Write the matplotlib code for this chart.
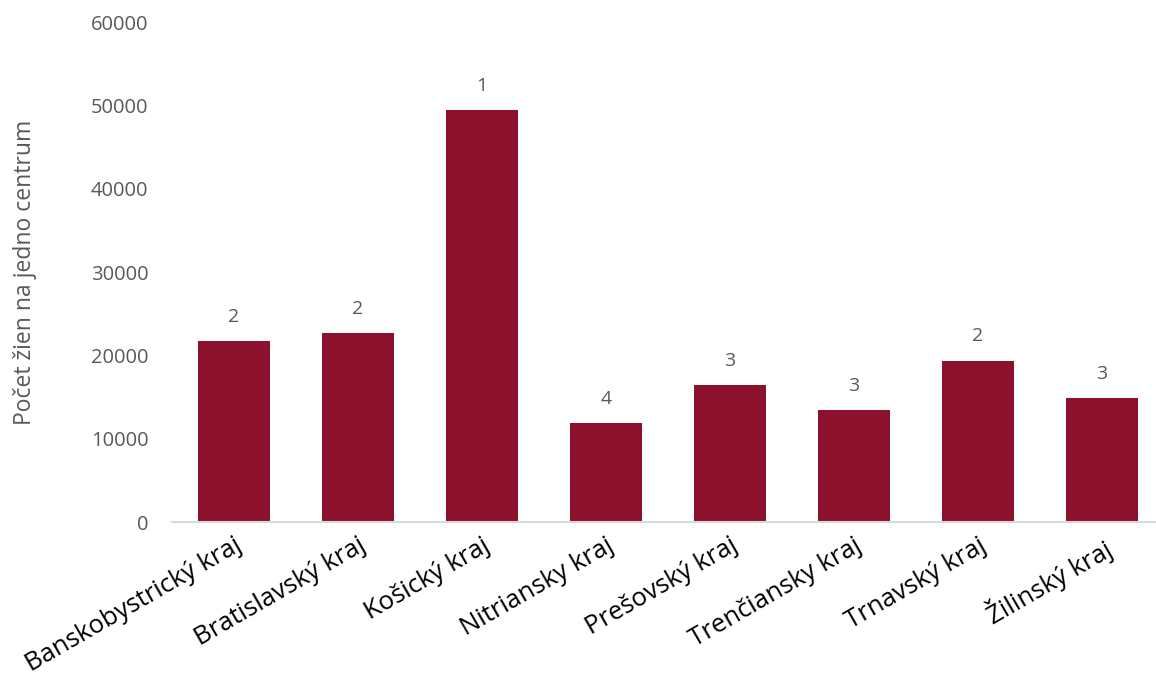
import matplotlib.pyplot as plt

regions = ["Banskobystrický kraj", "Bratislavský kraj", "Košický kraj", "Nitriansky kraj",
           "Prešovský kraj", "Trenčiansky kraj", "Trnavský kraj", "Žilinský kraj"]
women_per_centre = [21700, 22700, 49400, 11900, 16450, 13450, 19350, 14900]
centres = [2, 2, 1, 4, 3, 3, 2, 3]

plt.rcParams['font.family'] = ['Open Sans', 'DejaVu Sans']
grey = '#595959'

fig = plt.figure(figsize=(11.56, 6.77), dpi=100)
ax = fig.add_axes([172 / 1156, 155 / 677, 992 / 1156, 500 / 677])

x = range(len(regions))
bars = ax.bar(x, women_per_centre, width=0.58, color='#8B112D')
for b, n in zip(bars, centres):
    ax.annotate(str(n), (b.get_x() + b.get_width() / 2, b.get_height()),
                xytext=(0, 11), textcoords='offset points', ha='center', va='bottom',
                fontsize=14, color=grey)

ax.set_xlim(-0.5, len(regions) - 0.5)
ax.set_ylim(0, 60000)
ax.set_yticks(range(0, 60001, 10000))
ax.set_xticks(list(x))
ax.set_xticklabels(regions, rotation=30, ha='right', rotation_mode='anchor',
                   fontsize=18.5, color='black')
ax.tick_params(axis='x', length=0, pad=8)
ax.tick_params(axis='y', length=0, pad=17, labelsize=14.5, labelcolor=grey)

for s in ['top', 'right', 'left']:
    ax.spines[s].set_visible(False)
ax.spines['bottom'].set_color('#D9D9D9')
ax.spines['bottom'].set_linewidth(1.5)

ax.set_ylabel("Počet žien na jedno centrum", fontsize=16.5, color=grey)
ax.yaxis.set_label_coords(-135 / 992, 0.5)

fig.savefig('out.png', dpi=100)
